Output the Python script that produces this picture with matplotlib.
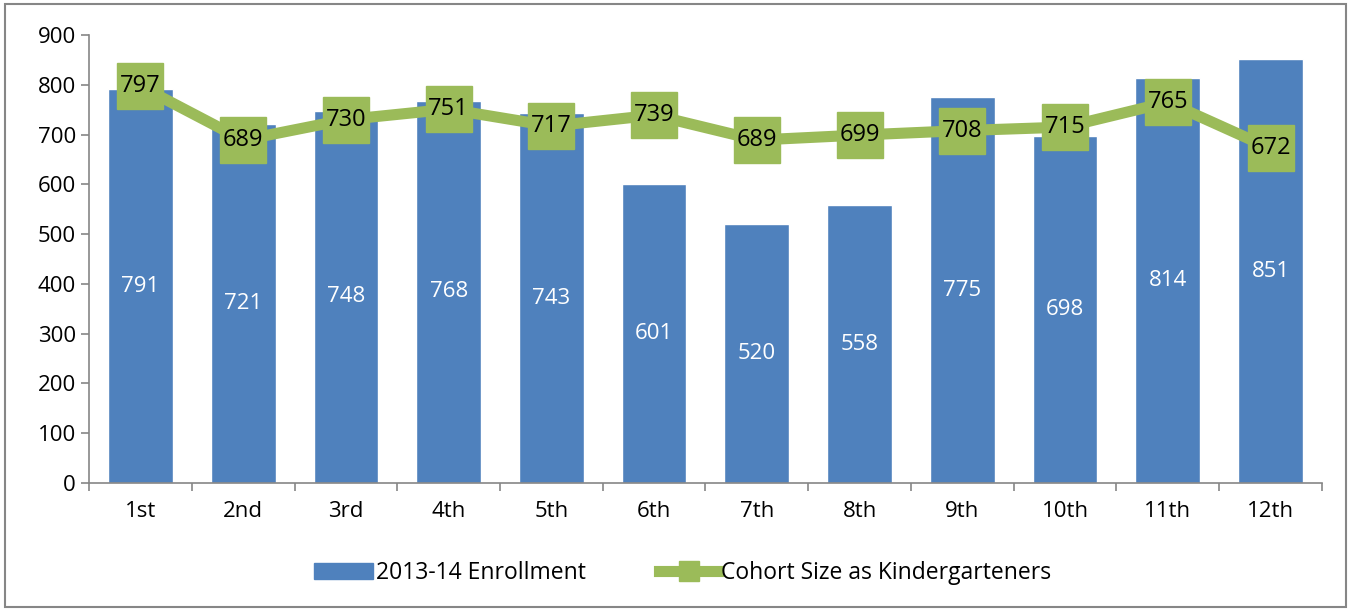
import matplotlib.pyplot as plt
import matplotlib.patches as mpatches
from matplotlib.lines import Line2D
import numpy as np

plt.rcParams["font.family"] = ["Open Sans", "DejaVu Sans"]

# --- data ---
grades = ["1st", "2nd", "3rd", "4th", "5th", "6th", "7th", "8th", "9th", "10th", "11th", "12th"]
enrollment = [791, 721, 748, 768, 743, 601, 520, 558, 775, 698, 814, 851]
cohort = [797, 689, 730, 751, 717, 739, 689, 699, 708, 715, 765, 672]

blue = "#4F81BD"
green = "#9BBB59"
axis_grey = "#868686"

fig = plt.figure(figsize=(13.51, 6.11), dpi=100)
ax = fig.add_axes([0.0659, 0.2095, 0.9126, 0.7332])

x = np.arange(len(grades))
ax.bar(x, enrollment, width=0.63, color=blue, edgecolor="white", linewidth=1.0, zorder=2)
for xi, v in zip(x, enrollment):
    ax.text(xi, v / 2, str(v), ha="center", va="center", color="white", fontsize=16, zorder=3)

ax.plot(x, cohort, color=green, linewidth=8, marker="s", markersize=33,
        markerfacecolor=green, markeredgecolor=green, zorder=4)
for xi, v in zip(x, cohort):
    ax.text(xi, v, str(v), ha="center", va="center", color="black", fontsize=17, zorder=5)

ax.set_xlim(-0.5, len(grades) - 0.5)
ax.set_ylim(0, 900)
ax.set_yticks(range(0, 901, 100))
ax.set_xticks(x)
ax.set_xticklabels(grades)
ax.set_xticks(np.arange(-0.5, len(grades)), minor=True)
ax.tick_params(axis="x", which="major", length=0, pad=13, labelsize=16)
ax.tick_params(axis="x", which="minor", length=6, color=axis_grey, width=1.2)
ax.tick_params(axis="y", length=6, color=axis_grey, width=1.2, labelsize=16)

for side in ["top", "right"]:
    ax.spines[side].set_visible(False)
for side in ["left", "bottom"]:
    ax.spines[side].set_color(axis_grey)
    ax.spines[side].set_linewidth(1.2)

handles = [
    mpatches.Patch(color=blue, label="2013-14 Enrollment"),
    Line2D([0], [0], color=green, linewidth=8, marker="s", markersize=14,
           markerfacecolor=green, markeredgecolor=green, label="Cohort Size as Kindergarteners"),
]
fig.legend(handles=handles, loc="center", bbox_to_anchor=(0.505, 0.062), ncol=2,
           frameon=False, fontsize=16.5, handlelength=2.6, handletextpad=0.1, columnspacing=3.2)

# outer border
fig.patches.append(mpatches.Rectangle((0.004, 0.006), 0.992, 0.988, transform=fig.transFigure,
                                      fill=False, edgecolor=axis_grey, linewidth=1.5))

fig.savefig("out.png", dpi=100)
